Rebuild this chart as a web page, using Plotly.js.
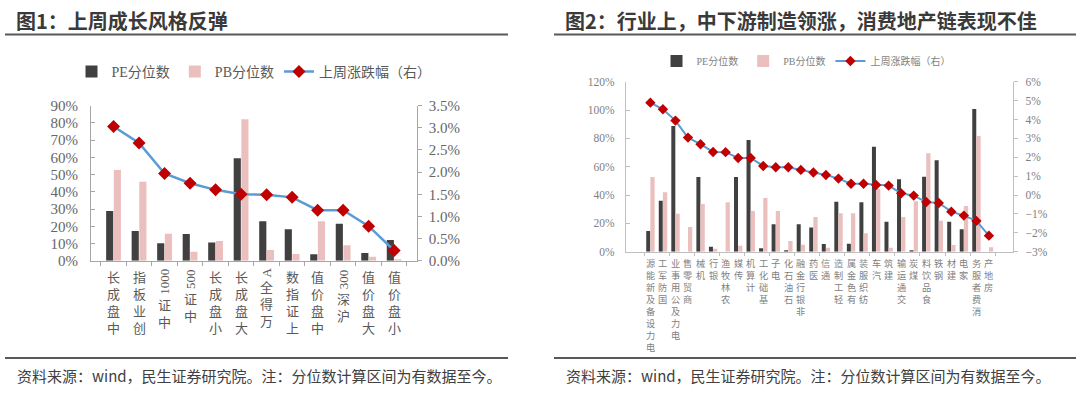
<!DOCTYPE html>
<html>
<head>
<meta charset="utf-8">
<script src="https://cdn.plot.ly/plotly-3.0.1.min.js"></script>
<style>html,body{margin:0;padding:0;background:#fff;}#chart{width:1080px;height:394px;}</style>
</head>
<body>
<div id="chart"></div>
<script>
// ---------- Data: Figure 1 (style indices) ----------
const leftCats = ['中盘成长','创业板指','中证1000','中证500','小盘成长','大盘成长','万得全A','上证指数','中盘价值','沪深300','大盘价值','小盘价值'];
const leftPE  = [28.9,17.2,10.1,15.5,10.5,59.5,22.9,18.2,3.7,21.5,4.5,12.0];
const leftPB  = [52.7,45.9,15.7,5.2,11.4,82.1,6.2,3.9,22.9,8.9,2.3,0.8];
const leftChg = [3.03,2.66,1.97,1.75,1.60,1.50,1.49,1.43,1.14,1.14,0.78,0.23];

// ---------- Data: Figure 2 (industries) ----------
const rightCats = ['电力设备及新能源','国防军工','电力及公用事业','商贸零售','机械','银行','农林牧渔','传媒','计算机','基础化工','电子','石油石化','非银行金融','医药','通信','轻工制造','有色金属','纺织服装','汽车','建筑','交通运输','煤炭','食品饮料','钢铁','建材','家电','消费者服务','房地产'];
const rightPE  = [14.6,36.0,88.7,0,52.7,3.5,0,52.7,78.8,2.4,19.3,1.0,19.3,17.0,5.4,35.3,5.6,34.9,74.1,21.2,51.1,1.0,52.9,64.5,21.2,15.8,100.7,0];
const rightPB  = [52.7,41.9,26.8,17.4,33.7,2.1,34.9,4.2,28.7,37.9,28.7,7.5,4.9,24.5,2.8,27.1,27.1,13.0,44.2,2.8,24.5,35.6,69.5,21.9,4.7,32.3,81.7,3.1];
const rightChg = [4.89,4.54,3.94,3.04,2.69,2.28,2.27,1.96,1.96,1.54,1.47,1.47,1.33,1.19,1.06,0.87,0.60,0.60,0.53,0.50,0.09,-0.03,-0.37,-0.42,-0.88,-1.09,-1.37,-2.15];

const seriesNames = ['PE分位数','PB分位数','上周涨跌幅（右）'];
const titles = ['图1：上周成长风格反弹','图2：行业上，中下游制造领涨，消费地产链表现不佳'];
const sourceText = '资料来源：wind，民生证券研究院。注：分位数计算区间为有数据至今。';

// ---------- Styling ----------
const W = 1080, H = 394;
const CJK = '"Noto Sans CJK SC", sans-serif';
const SERIF = '"Liberation Serif", "Noto Sans CJK SC", serif';
const DARK = '#404040', PINK = '#ecbfbf', BLUE = '#5b9bd5', RED = '#c00000';
const px = v => v / W, py = v => 1 - v / H;

// vertical (stacked) category labels, reading bottom-to-top, top-aligned under the axis
function verticalLabels(cats, xref, yref, o) {
  const anns = [];
  cats.forEach(cat => {
    const segs = cat.match(/[A-Za-z0-9]+|[^A-Za-z0-9]+/g).reverse();
    let off = o.top;
    segs.forEach(s => {
      const ascii = /^[A-Za-z0-9]+$/.test(s);
      let text, h;
      if (ascii) { text = s; h = s.length * o.asciiW + 4; }
      else { const ch = Array.from(s).reverse(); text = ch.join('<br>'); h = ch.length * o.size * 1.3; }
      anns.push({
        xref: xref, yref: yref, x: cat, y: 0, yshift: -(off + h / 2),
        xanchor: 'center', yanchor: 'middle', showarrow: false,
        text: text, textangle: ascii ? -90 : 0,
        font: ascii ? {family: SERIF, size: o.asciiSize, color: o.color} : {family: CJK, size: o.size, color: o.color}
      });
      off += h;
    });
  });
  return anns;
}

const traces = [
  {type:'bar', name: seriesNames[0], x: leftCats, y: leftPE, xaxis:'x', yaxis:'y', marker:{color: DARK}, width:0.28, offset:-0.29, legend:'legend'},
  {type:'bar', name: seriesNames[1], x: leftCats, y: leftPB, xaxis:'x', yaxis:'y', marker:{color: PINK}, width:0.28, offset:0.01, legend:'legend'},
  {type:'scatter', mode:'lines+markers', name: seriesNames[2], x: leftCats, y: leftChg, xaxis:'x', yaxis:'y2',
   line:{color: BLUE, width:2.5}, marker:{symbol:'diamond', size:10, color: RED}, legend:'legend'},
  {type:'bar', name: seriesNames[0], x: rightCats, y: rightPE, xaxis:'x2', yaxis:'y3', marker:{color: DARK}, width:0.32, offset:-0.33, legend:'legend2'},
  {type:'bar', name: seriesNames[1], x: rightCats, y: rightPB, xaxis:'x2', yaxis:'y3', marker:{color: PINK}, width:0.34, offset:0.0, legend:'legend2'},
  {type:'scatter', mode:'lines+markers', name: seriesNames[2], x: rightCats, y: rightChg, xaxis:'x2', yaxis:'y4',
   line:{color: BLUE, width:2}, marker:{symbol:'diamond', size:8, color: RED}, legend:'legend2'}
];

const axL = '#a6a6a6', axR = '#bfbfbf';
const layout = {
  width: W, height: H, margin: {l:0, r:0, t:0, b:0},
  paper_bgcolor: '#fff', plot_bgcolor: 'rgba(0,0,0,0)',
  barmode: 'group', showlegend: true,
  xaxis: {domain:[px(91), px(416.7)], anchor:'y', type:'category', showticklabels:false, showline:true, linecolor: axL, linewidth:1,
          ticks:'outside', tickson:'boundaries', ticklen:4, tickcolor: axL, showgrid:false, zeroline:false, fixedrange:true},
  yaxis: {domain:[py(260.7), py(105.7)], anchor:'x', range:[0,90], dtick:10, ticksuffix:'%', showline:true, linecolor: axL,
          ticks:'inside', ticklen:4, tickcolor: axL, showgrid:false, zeroline:false, ticklabelstandoff:9,
          tickfont:{family: SERIF, size:15, color:'#666'}, fixedrange:true},
  yaxis2: {overlaying:'y', anchor:'x', side:'right', range:[0,3.5], dtick:0.5, tickformat:'.1f', ticksuffix:'%', showline:true, linecolor: axL,
          ticks:'outside', ticklen:4, tickcolor: axL, showgrid:false, zeroline:false, ticklabelstandoff:4,
          tickfont:{family: SERIF, size:15, color:'#666'}, fixedrange:true},
  xaxis2: {domain:[px(626), px(1013.3)], anchor:'y3', type:'category', showticklabels:false, showline:true, linecolor: axR, linewidth:1,
          ticks:'outside', tickson:'boundaries', ticklen:3, tickcolor: axR, showgrid:false, zeroline:false, fixedrange:true},
  yaxis3: {domain:[py(251.7), py(81.7)], anchor:'x2', range:[0,120], dtick:20, ticksuffix:'%', showline:true, linecolor: axR,
          ticks:'inside', ticklen:4, tickcolor: axR, showgrid:false, zeroline:false, ticklabelstandoff:8,
          tickfont:{family: SERIF, size:11.5, color:'#808080'}, fixedrange:true},
  yaxis4: {overlaying:'y3', anchor:'x2', side:'right', range:[-3,6], dtick:1, ticksuffix:'%', showline:true, linecolor: axR,
          ticks:'outside', ticklen:4, tickcolor: axR, showgrid:false, zeroline:false, ticklabelstandoff:5,
          tickfont:{family: SERIF, size:11.5, color:'#808080'}, fixedrange:true},
  legend: {orientation:'h', x: px(254), xanchor:'center', y: py(72), yanchor:'middle', bgcolor:'rgba(0,0,0,0)',
           font:{family: SERIF, size:14, color:'#595959'}, itemwidth:30, traceorder:'normal'},
  legend2: {orientation:'h', x: px(806), xanchor:'center', y: py(61), yanchor:'middle', bgcolor:'rgba(0,0,0,0)',
           font:{family: SERIF, size:10, color:'#7f7f7f'}, itemwidth:30, traceorder:'normal'},
  shapes: [
    {type:'line', xref:'paper', yref:'paper', x0:px(5), x1:px(508), y0:py(34.5), y1:py(34.5), line:{color:'#595959', width:2}},
    {type:'line', xref:'paper', yref:'paper', x0:px(554), x1:px(1076), y0:py(34.5), y1:py(34.5), line:{color:'#595959', width:2}},
    {type:'line', xref:'paper', yref:'paper', x0:px(5), x1:px(508), y0:py(358), y1:py(358), line:{color:'#595959', width:2}},
    {type:'line', xref:'paper', yref:'paper', x0:px(554), x1:px(1076), y0:py(358), y1:py(358), line:{color:'#595959', width:2}}
  ],
  annotations: [
    {xref:'paper', yref:'paper', x:px(14), y:py(21), xanchor:'left', yanchor:'middle', showarrow:false, text: titles[0],
     font:{family: CJK, size:20, color:'#3a3a3a', weight:700}},
    {xref:'paper', yref:'paper', x:px(563), y:py(21), xanchor:'left', yanchor:'middle', showarrow:false, text: titles[1],
     font:{family: CJK, size:20, color:'#3a3a3a', weight:700}},
    {xref:'paper', yref:'paper', x:px(15), y:py(375), xanchor:'left', yanchor:'middle', showarrow:false, text: sourceText,
     font:{family: CJK, size:15, color:'#404040'}},
    {xref:'paper', yref:'paper', x:px(564), y:py(375), xanchor:'left', yanchor:'middle', showarrow:false, text: sourceText,
     font:{family: CJK, size:15, color:'#404040'}}
  ].concat(
    verticalLabels(leftCats, 'x', 'y', {top:7, size:13, asciiW:6.2, asciiSize:13, color:'#595959'}),
    verticalLabels(rightCats, 'x2', 'y3', {top:5, size:9.2, asciiW:5, asciiSize:10, color:'#7f7f7f'})
  )
};

Plotly.newPlot('chart', traces, layout, {staticPlot:true, displayModeBar:false});
</script>
</body>
</html>
